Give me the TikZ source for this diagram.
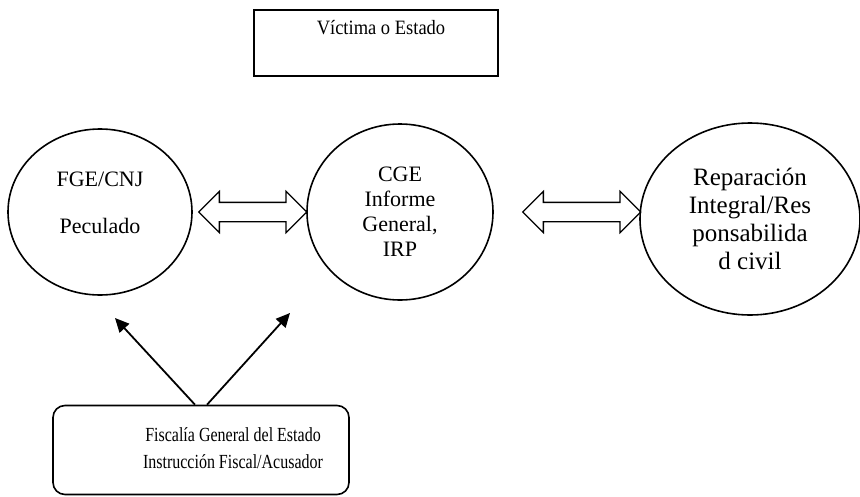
\documentclass[tikz,border=0pt]{standalone}
\usepackage{fontspec}
\setmainfont{Liberation Serif}
\usetikzlibrary{shapes.geometric, shapes.arrows, arrows.meta, positioning}

\begin{document}
\begin{tikzpicture}[
    x=1pt, y=-1pt,
    oval/.style={ellipse, draw, line width=1.6pt, align=center, inner sep=0pt, font=\fontsize{22}{25}\selectfont},
    dblarrow/.style={double arrow, draw, line width=1.3pt, double arrow head extend=11pt, inner xsep=0pt, inner ysep=9pt},
    pointer/.style={-{Triangle[length=14pt,width=13pt]}, line width=1.8pt}
]
\useasboundingbox (0,0) rectangle (860,496);

\node[draw, line width=1.8pt, minimum width=244pt, text height=16pt, text depth=34pt, inner ysep=8pt, font=\fontsize{18.5}{20}\selectfont] (victima) at (376,43) {\hspace*{10pt}\scalebox{1}[1.1]{Víctima o Estado}};

\node[oval, minimum width=184pt, minimum height=166pt] (fge) at (100,212) {\raisebox{2pt}[0pt][0pt]{\begin{tabular}{@{}c@{}}FGE/CNJ\\[22pt]Peculado\end{tabular}}};
\node[oval, minimum width=186pt, minimum height=176pt] (cge) at (400,212) {CGE\\Informe\\General,\\IRP};
\node[oval, minimum width=220pt, minimum height=192pt, font=\fontsize{25}{28}\selectfont] (rep) at (750,219) {Reparación\\Integral/Res\\ponsabilida\\d civil};

\node[dblarrow, minimum height=108pt, right=5pt of fge] (fgecge) {};
\node[dblarrow, minimum height=118pt, right=28pt of cge] (cgerep) {};

\node[draw, rounded corners=12pt, line width=1.6pt, minimum width=296pt, minimum height=89pt, font=\fontsize{16}{21.5}\selectfont] (fiscal) at (201,450) {\hspace*{64pt}\scalebox{1}[1.25]{\begin{tabular}{@{}c@{}}Fiscalía General del Estado\\Instrucción Fiscal/Acusador\end{tabular}}};

\coordinate (tipL) at (115,318);
\coordinate (tipR) at (290,313);
\draw[pointer] ([xshift=-6pt]fiscal.north) -- (tipL);
\draw[pointer] ([xshift=6pt]fiscal.north) -- (tipR);

\end{tikzpicture}
\end{document}
